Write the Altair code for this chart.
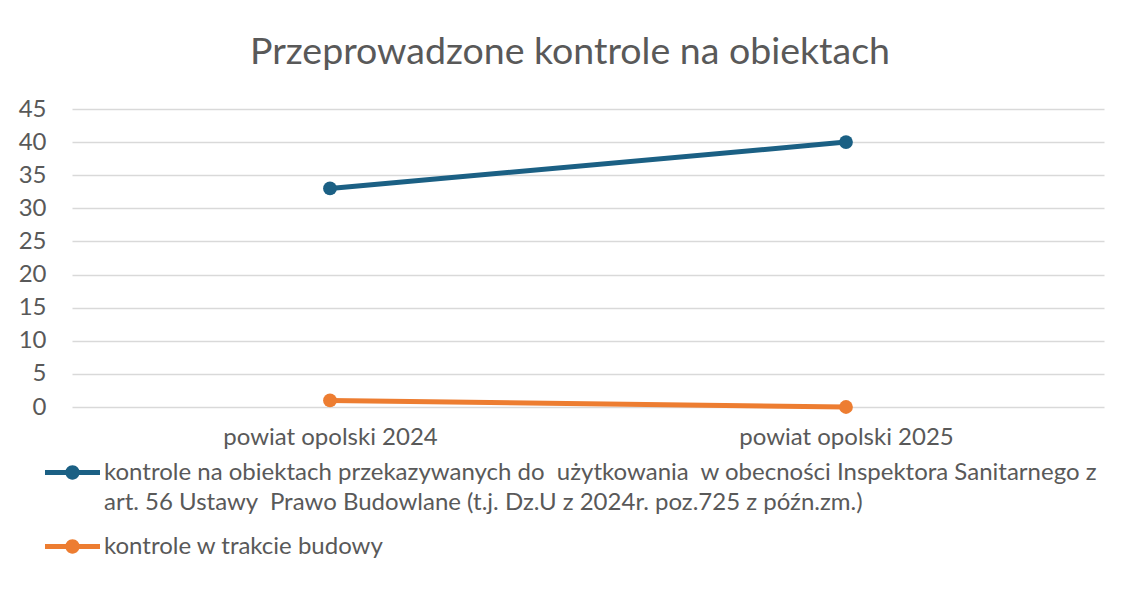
import altair as alt
import pandas as pd

categories = ["powiat opolski 2024", "powiat opolski 2025"]
series_names = [
    "kontrole na obiektach przekazywanych do \u00a0użytkowania \u00a0w obecności Inspektora Sanitarnego z\nart. 56 Ustawy \u00a0Prawo Budowlane (t.j. Dz.U z 2024r. poz.725 z późn.zm.)",
    "kontrole w trakcie budowy",
]
values_odbiory = [33, 40]
values_budowa = [1, 0]
colors = ["#1B6084", "#ED7D31"]
y_ticks = [0, 5, 10, 15, 20, 25, 30, 35, 40, 45]

rows = []
for c, v in zip(categories, values_odbiory):
    rows.append({"kategoria": c, "seria": series_names[0], "wartosc": v})
for c, v in zip(categories, values_budowa):
    rows.append({"kategoria": c, "seria": series_names[1], "wartosc": v})
df = pd.DataFrame(rows)

FONT = "Lato"
GREY = "#595959"

# legend symbol: horizontal bar with a circle in the middle
symbol_path = (
    "M-1,-0.09 L1,-0.09 L1,0.09 L-1,0.09 Z "
    "M-0.26,0 A0.26,0.26 0 1,1 0.26,0 A0.26,0.26 0 1,1 -0.26,0 Z"
)

base = alt.Chart(df).encode(
    x=alt.X(
        "kategoria:N",
        sort=categories,
        scale=alt.Scale(type="point", padding=0.5),
        axis=alt.Axis(
            title=None, labelAngle=0, domain=False, ticks=False, tickSize=0,
            labelPadding=18, labelFontSize=24, labelColor=GREY, labelFont=FONT,
            labelLimit=0, grid=False,
        ),
    ),
    y=alt.Y(
        "wartosc:Q",
        scale=alt.Scale(domain=[0, 45], nice=False),
        axis=alt.Axis(
            title=None, values=y_ticks, domain=False, ticks=False, tickSize=0,
            labelPadding=26, labelFontSize=24, labelColor=GREY, labelFont=FONT,
            grid=True, gridColor="#D9D9D9", gridWidth=1.5,
        ),
    ),
    color=alt.Color(
        "seria:N",
        sort=series_names,
        scale=alt.Scale(domain=series_names, range=colors),
        legend=alt.Legend(
            title=None, orient="none", legendX=-27, legendY=336,
            direction="vertical",
            symbolType=symbol_path, symbolSize=3025, symbolStrokeWidth=0,
            symbolOpacity=1,
            labelFontSize=24, labelColor=GREY, labelFont=FONT, labelLimit=0,
            labelExpr="split(datum.label, '\\n')", labelOffset=4,
            rowPadding=4,
        ),
    ),
)

lines = base.mark_line(strokeWidth=5)
points = base.mark_point(filled=True, size=190, opacity=1)

chart = (
    (lines + points)
    .properties(
        width=1032,
        height=298,
        padding={"left": 10, "top": 25, "right": 5, "bottom": 5},
        title=alt.TitleParams(
            "Przeprowadzone kontrole na obiektach",
            fontSize=37.5, font=FONT, fontWeight="normal", color=GREY,
            anchor="middle", offset=26, dx=-18,
        ),
    )
    .configure(
        background="white",
        style={"guide-label": {"lineHeight": 30}},
        view=alt.ViewConfig(stroke="transparent", strokeWidth=0),
    )
)

chart.save("out.html", embed_options={"renderer": "svg", "actions": False})
